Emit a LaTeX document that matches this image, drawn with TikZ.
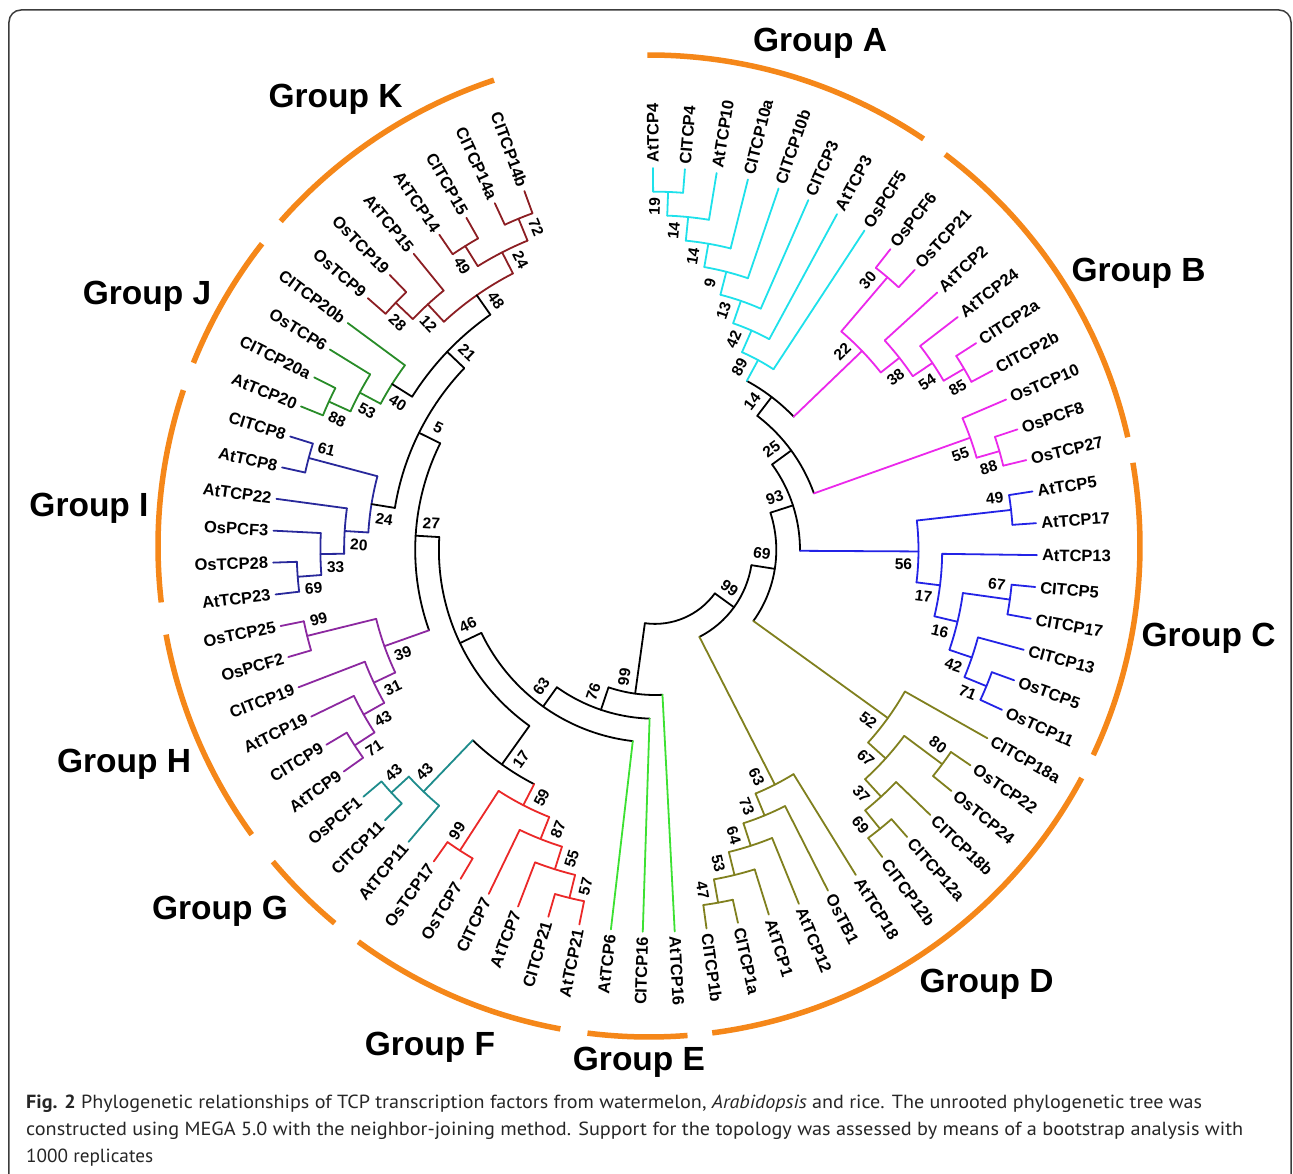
\documentclass[tikz,border=0pt]{standalone}
\usepackage{fontspec}
\setmainfont{Liberation Sans}
\newfontfamily\capfont{PT Sans}
\usepackage{graphicx}
\definecolor{cA}{RGB}{30,225,235}
\definecolor{cB}{RGB}{235,40,235}
\definecolor{cC}{RGB}{35,35,230}
\definecolor{cD}{RGB}{128,128,30}
\definecolor{cE}{RGB}{60,225,50}
\definecolor{cF}{RGB}{235,40,40}
\definecolor{cG}{RGB}{30,140,140}
\definecolor{cH}{RGB}{140,40,160}
\definecolor{cI}{RGB}{40,40,155}
\definecolor{cJ}{RGB}{40,140,40}
\definecolor{cK}{RGB}{140,30,35}
\definecolor{orng}{RGB}{245,135,25}
\definecolor{frm}{RGB}{60,60,60}
\newlength\capw
\newcommand\fitline[2]{\settowidth\capw{#1}\pgfmathsetmacro\capsx{#2/\capw}\scalebox{\capsx}[1]{#1}}
% leaf: name, index, text, colour
\newcommand\LF[4]{%
  \pgfmathsetmacro\tA{90.3-4.793*#2}%
  \expandafter\xdef\csname TA#1\endcsname{\tA}%
  \expandafter\xdef\csname TC#1\endcsname{#4}%
  \coordinate (#1) at (\tA:382);%
  \ifdim\tA pt>-90pt
    \node[leaf,rotate=\tA,anchor=west] (#1-t) at (\tA:387) {#3};%
  \else
    \pgfmathsetmacro\tR{\tA+180}%
    \node[leaf,rotate=\tR,anchor=east] (#1-t) at (\tA:387) {#3};%
  \fi
}
% internal node: name, height, child1, child2, arc colour, stem colour, bootstrap, side
\newcommand\IN[8]{%
  \edef\chA{\csname TA#3\endcsname}%
  \edef\chB{\csname TA#4\endcsname}%
  \edef\sA{\csname TC#3\endcsname}%
  \edef\sB{\csname TC#4\endcsname}%
  \pgfmathsetmacro\tA{(\chA+\chB)/2}%
  \pgfmathsetmacro\tR{382-23.7*#2}%
  \expandafter\xdef\csname TA#1\endcsname{\tA}%
  \expandafter\xdef\csname TC#1\endcsname{#6}%
  \coordinate (#1) at (\tA:\tR);%
  \coordinate (#1-s1) at (\chA:\tR);%
  \coordinate (#1-s2) at (\chB:\tR);%
  \draw[tree,color=#5] (#1-s1) arc[start angle=\chA,end angle=\chB,radius=\tR pt];%
  \draw[tree,color=\sA] (#1-s1) -- (#3);%
  \draw[tree,color=\sB] (#1-s2) -- (#4);%
  \if\relax\detokenize{#7}\relax\else
    \pgfmathsetmacro\lR{\tR-15}%
    \pgfmathsetmacro\pA{\tA+90*(#8)}%
    \ifdim\tA pt>-90pt \edef\rT{\tA}\else \pgfmathsetmacro\rT{\tA+180}\fi
    \path (\tA:\lR) ++(\pA:13) node[bs,rotate=\rT] (#1-l) {#7};%
  \fi
}
\begin{document}
\begin{tikzpicture}[x=1pt,y=1pt,
  tree/.style={line width=1.8,line cap=round,line join=round},
  leaf/.style={font=\bfseries\fontsize{16.5}{18}\selectfont,inner sep=0pt},
  bs/.style={font=\bfseries\fontsize{15.5}{17}\selectfont,inner sep=0pt},
  grplab/.style={font=\bfseries\fontsize{33.5}{36}\selectfont,inner sep=0pt,anchor=base},
  grp/.style={line width=5.5,color=orng},
  capt/.style={font=\capfont\fontsize{19}{22}\selectfont,inner sep=0pt,anchor=base west,text=black!85}]
\fill[white] (-655,-624) rectangle (638,550);
\useasboundingbox (-655,-624) rectangle (638,550);
\draw[frm,line width=1.5,rounded corners=12] (-646,-660) rectangle (636,540);

% group arcs
\foreach \a/\b in {56/90.2, 12.8/52.9, -25.2/9.75, -82.6/-28.2, -97.2/-85.5, -126.3/-100.4, -140/-129.8, -169.6/-144, 161.5/186.6, 142/158.1, 108.4/138.6}
  \draw[grp] ([shift={(-6,4)}]\a:491) arc[start angle=\a,end angle=\b,radius=491pt];

\node[grplab] (gA) at (165,498) {Group A};
\node[grplab] (gB) at (483.5,268) {Group B};
\node[grplab] (gC) at (553.5,-97) {Group C};
\node[grplab] (gD) at (331.5,-442) {Group D};
\node[grplab] (gE) at (-16,-520) {Group E};
\node[grplab] (gF) at (-225,-505) {Group F};
\node[grplab] (gG) at (-435,-370) {Group G};
\node[grplab] (gH) at (-531,-223) {Group H};
\node[grplab] (gI) at (-566,33) {Group I};
\node[grplab] (gJ) at (-508,245) {Group J};
\node[grplab] (gK) at (-319.5,442) {Group K};

% leaves
\LF{L0}{0}{AtTCP4}{cA}
\LF{L1}{1}{CITCP4}{cA}
\LF{L2}{2}{AtTCP10}{cA}
\LF{L3}{3}{CITCP10a}{cA}
\LF{L4}{4}{CITCP10b}{cA}
\LF{L5}{5}{CITCP3}{cA}
\LF{L6}{6}{AtTCP3}{cA}
\LF{L7}{7}{OsPCF5}{cA}
\LF{L8}{8}{OsPCF6}{cB}
\LF{L9}{9}{OsTCP21}{cB}
\LF{L10}{10}{AtTCP2}{cB}
\LF{L11}{11}{AtTCP24}{cB}
\LF{L12}{12}{CITCP2a}{cB}
\LF{L13}{13}{CITCP2b}{cB}
\LF{L14}{14}{OsTCP10}{cB}
\LF{L15}{15}{OsPCF8}{cB}
\LF{L16}{16}{OsTCP27}{cB}
\LF{L17}{17}{AtTCP5}{cC}
\LF{L18}{18}{AtTCP17}{cC}
\LF{L19}{19}{AtTCP13}{cC}
\LF{L20}{20}{CITCP5}{cC}
\LF{L21}{21}{CITCP17}{cC}
\LF{L22}{22}{CITCP13}{cC}
\LF{L23}{23}{OsTCP5}{cC}
\LF{L24}{24}{OsTCP11}{cC}
\LF{L25}{25}{CITCP18a}{cD}
\LF{L26}{26}{OsTCP22}{cD}
\LF{L27}{27}{OsTCP24}{cD}
\LF{L28}{28}{CITCP18b}{cD}
\LF{L29}{29}{CITCP12a}{cD}
\LF{L30}{30}{CITCP12b}{cD}
\LF{L31}{31}{AtTCP18}{cD}
\LF{L32}{32}{OsTB1}{cD}
\LF{L33}{33}{AtTCP12}{cD}
\LF{L34}{34}{AtTCP1}{cD}
\LF{L35}{35}{CITCP1a}{cD}
\LF{L36}{36}{CITCP1b}{cD}
\LF{L37}{37}{AtTCP16}{cE}
\LF{L38}{38}{CITCP16}{cE}
\LF{L39}{39}{AtTCP6}{cE}
\LF{L40}{40}{AtTCP21}{cF}
\LF{L41}{41}{CITCP21}{cF}
\LF{L42}{42}{AtTCP7}{cF}
\LF{L43}{43}{CITCP7}{cF}
\LF{L44}{44}{OsTCP7}{cF}
\LF{L45}{45}{OsTCP17}{cF}
\LF{L46}{46}{AtTCP11}{cG}
\LF{L47}{47}{CITCP11}{cG}
\LF{L48}{48}{OsPCF1}{cG}
\LF{L49}{49}{AtTCP9}{cH}
\LF{L50}{50}{CITCP9}{cH}
\LF{L51}{51}{AtTCP19}{cH}
\LF{L52}{52}{CITCP19}{cH}
\LF{L53}{53}{OsPCF2}{cH}
\LF{L54}{54}{OsTCP25}{cH}
\LF{L55}{55}{AtTCP23}{cI}
\LF{L56}{56}{OsTCP28}{cI}
\LF{L57}{57}{OsPCF3}{cI}
\LF{L58}{58}{AtTCP22}{cI}
\LF{L59}{59}{AtTCP8}{cI}
\LF{L60}{60}{CITCP8}{cI}
\LF{L61}{61}{AtTCP20}{cJ}
\LF{L62}{62}{CITCP20a}{cJ}
\LF{L63}{63}{OsTCP6}{cJ}
\LF{L64}{64}{CITCP20b}{cJ}
\LF{L65}{65}{OsTCP9}{cK}
\LF{L66}{66}{OsTCP19}{cK}
\LF{L67}{67}{AtTCP15}{cK}
\LF{L68}{68}{AtTCP14}{cK}
\LF{L69}{69}{CITCP15}{cK}
\LF{L70}{70}{CITCP14a}{cK}
\LF{L71}{71}{CITCP14b}{cK}

% Group A
\IN{a19}{1}{L0}{L1}{cA}{cA}{19}{1}
\IN{a14}{2}{a19}{L2}{cA}{cA}{14}{1}
\IN{a14x}{3}{a14}{L3}{cA}{cA}{14}{1}
\IN{a9}{4}{a14x}{L4}{cA}{cA}{9}{1}
\IN{a13}{5}{a9}{L5}{cA}{cA}{13}{1}
\IN{a42}{6}{a13}{L6}{cA}{cA}{42}{1}
\IN{a89}{7}{a42}{L7}{cA}{cA}{89}{1}
% Group B
\IN{b30}{1}{L8}{L9}{cB}{cB}{30}{1}
\IN{b85}{1}{L12}{L13}{cB}{cB}{85}{-1}
\IN{b54}{2}{L11}{b85}{cB}{cB}{54}{-1}
\IN{b38}{3}{L10}{b54}{cB}{cB}{38}{-1}
\IN{b22}{4}{b30}{b38}{cB}{cB}{22}{1}
\IN{b88}{1}{L15}{L16}{cB}{cB}{88}{-1}
\IN{b55}{2}{L14}{b88}{cB}{cB}{55}{-1}
\IN{r14}{8}{a89}{b22}{black}{black}{14}{1}
\IN{r25}{9}{r14}{b55}{black}{black}{25}{1}
% Group C
\IN{c49}{1}{L17}{L18}{cC}{cC}{49}{1}
\IN{c67}{1}{L20}{L21}{cC}{cC}{67}{1}
\IN{c71}{1}{L23}{L24}{cC}{cC}{71}{-1}
\IN{c42}{2}{L22}{c71}{cC}{cC}{42}{-1}
\IN{c16}{3}{c67}{c42}{cC}{cC}{16}{-1}
\IN{c17}{4}{L19}{c16}{cC}{cC}{17}{-1}
\IN{c56}{5}{c49}{c17}{cC}{cC}{56}{-1}
\IN{r93}{10}{r25}{c56}{black}{black}{93}{1}
% Group D
\IN{d80}{1}{L26}{L27}{cD}{cD}{80}{1}
\IN{d69}{1}{L29}{L30}{cD}{cD}{69}{-1}
\IN{d37}{2}{L28}{d69}{cD}{cD}{37}{-1}
\IN{d67}{3}{d80}{d37}{cD}{cD}{67}{-1}
\IN{d52}{4}{L25}{d67}{cD}{cD}{52}{-1}
\IN{r69}{11}{r93}{d52}{black}{black}{69}{1}
\IN{d47}{1}{L35}{L36}{cD}{cD}{47}{-1}
\IN{d53}{2}{d47}{L34}{cD}{cD}{53}{-1}
\IN{d64}{3}{d53}{L33}{cD}{cD}{64}{-1}
\IN{d73}{4}{d64}{L32}{cD}{cD}{73}{-1}
\IN{d63}{5}{d73}{L31}{cD}{cD}{63}{-1}
\IN{r99}{12}{r69}{d63}{black}{black}{99}{1}
% Group F
\IN{f57}{1}{L40}{L41}{cF}{cF}{57}{1}
\IN{f55}{2}{L42}{f57}{cF}{cF}{55}{1}
\IN{f87}{3}{L43}{f55}{cF}{cF}{87}{1}
\IN{f99}{1}{L44}{L45}{cF}{cF}{99}{-1}
\IN{f59}{4}{f99}{f87}{cF}{cF}{59}{1}
% Group G
\IN{g43a}{1}{L47}{L48}{cG}{cG}{43}{-1}
\IN{g43b}{2}{L46}{g43a}{cG}{cG}{43}{-1}
\IN{m17}{5}{g43b}{f59}{black}{black}{17}{1}
% Group H
\IN{h71}{1}{L49}{L50}{cH}{cH}{71}{1}
\IN{h43}{2}{L51}{h71}{cH}{cH}{43}{1}
\IN{h31}{3}{L52}{h43}{cH}{cH}{31}{1}
\IN{h99}{1}{L53}{L54}{cH}{cH}{99}{-1}
\IN{h39}{4}{h99}{h31}{cH}{cH}{39}{1}
% Group I
\IN{i69}{1}{L55}{L56}{cI}{cI}{69}{1}
\IN{i33}{2}{L57}{i69}{cI}{cI}{33}{1}
\IN{i20}{3}{L58}{i33}{cI}{cI}{20}{1}
\IN{i61}{1}{L59}{L60}{cI}{cI}{61}{-1}
\IN{i24}{4}{i61}{i20}{cI}{black}{24}{1}
% Group J
\IN{j88}{1}{L61}{L62}{cJ}{cJ}{88}{1}
\IN{j53}{2}{j88}{L63}{cJ}{cJ}{53}{1}
\IN{j40}{3}{j53}{L64}{cJ}{black}{40}{1}
% Group K
\IN{k28}{1}{L65}{L66}{cK}{cK}{28}{1}
\IN{k12}{2}{k28}{L67}{cK}{cK}{12}{1}
\IN{k49}{1}{L68}{L69}{cK}{cK}{49}{1}
\IN{k72}{1}{L70}{L71}{cK}{cK}{72}{-1}
\IN{k24}{2}{k49}{k72}{cK}{cK}{24}{-1}
\IN{k48}{3}{k12}{k24}{cK}{black}{48}{-1}
% left backbone
\IN{m21}{4}{k48}{j40}{black}{black}{21}{-1}
\IN{m5}{5}{m21}{i24}{black}{black}{5}{-1}
\IN{m27}{6}{m5}{h39}{black}{black}{27}{-1}
\IN{m46}{7}{m27}{m17}{black}{black}{46}{-1}
\IN{m63}{8}{m46}{L39}{black}{black}{63}{-1}
\IN{m76}{9}{m63}{L38}{black}{black}{76}{-1}
\IN{m99}{10}{m76}{L37}{black}{black}{99}{-1}
\IN{root}{13}{r99}{m99}{black}{black}{}{1}

% caption
\node[capt] (cap1) at (-629,-558) {\fitline{{\bfseries Fig. 2} Phylogenetic relationships of TCP transcription factors from watermelon, \textit{Arabidopsis} and rice. The unrooted phylogenetic tree was}{1176}};
\node[capt] (cap2) at (-629,-585) {\fitline{constructed using MEGA 5.0 with the neighbor-joining method. Support for the topology was assessed by means of a bootstrap analysis with}{1217}};
\node[capt] (cap3) at (-629,-612) {\fitline{1000 replicates}{127}};
\end{tikzpicture}
\end{document}
